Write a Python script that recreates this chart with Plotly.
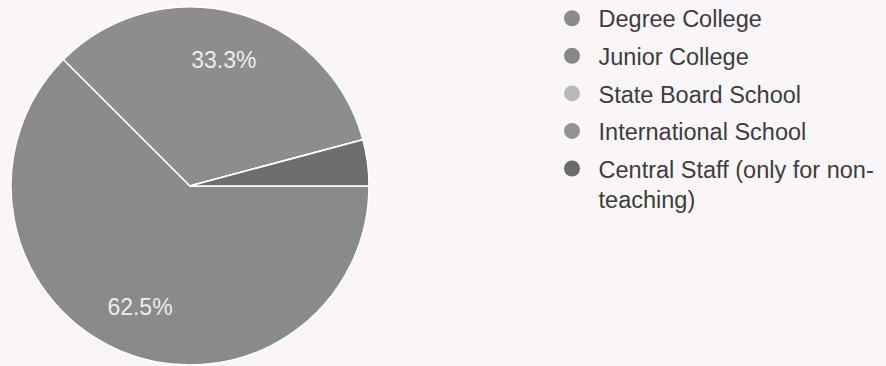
import plotly.graph_objects as go

categories = ["Degree College", "Junior College", "State Board School",
              "International School", "Central Staff (only for non-teaching)"]
legend_names = ["\u00a0Degree College", "\u00a0Junior College", "\u00a0State Board School",
                "\u00a0International School", "\u00a0Central Staff (only for non-<br>\u00a0teaching)"]
responses = [15, 8, 0, 0, 1]
slice_colors = ["#8a8a8a", "#8d8d8d", "#b8b8b8", "#939393", "#6e6e6e"]
legend_colors = ["#8a8a8a", "#878787", "#b9b9b9", "#939393", "#6b6b6b"]
label_templates = ["%{percent:.1%}", "%{percent:.1%}", "", "", ""]

W, H = 886, 366
cx, cy, r = 190, 186, 179
pie_domain = dict(x=[(cx - r) / W, (cx + r) / W], y=[(H - cy - r) / H, (H - cy + r) / H])

fig = go.Figure()
# visible slices
fig.add_trace(go.Pie(
    labels=categories,
    values=responses,
    sort=False,
    direction="clockwise",
    rotation=90,
    marker=dict(colors=slice_colors, line=dict(color="#ffffff", width=1.5)),
    textinfo="none",
    domain=pie_domain,
    showlegend=False,
    hoverinfo="label+percent",
))
# transparent ring carrying the percentage labels further out
fig.add_trace(go.Pie(
    labels=categories,
    values=responses,
    sort=False,
    direction="clockwise",
    rotation=90,
    hole=0.46,
    marker=dict(colors=["rgba(0,0,0,0)"] * len(categories), line=dict(width=0)),
    texttemplate=label_templates,
    textposition="inside",
    insidetextorientation="horizontal",
    textfont=dict(family="Liberation Sans, Arial, sans-serif", size=23, color="#ececec"),
    domain=pie_domain,
    showlegend=False,
    hoverinfo="skip",
))

for i, name in enumerate(legend_names):
    fig.add_trace(go.Scatter(
        x=[None], y=[None], mode="markers", name=name,
        legendgroup=f"g{i}",
        marker=dict(symbol="circle", size=18, color=legend_colors[i]),
        showlegend=True,
    ))

fig.update_layout(
    width=W, height=H,
    margin=dict(l=0, r=0, t=0, b=0, autoexpand=False),
    paper_bgcolor="#f9f5f8",
    plot_bgcolor="#f9f5f8",
    xaxis=dict(visible=False),
    yaxis=dict(visible=False),
    legend=dict(
        x=552 / W, y=1 + 3.5 / H, xanchor="left", yanchor="top",
        maxheight=H,
        font=dict(family="Liberation Sans, Arial, sans-serif", size=23.5, color="#3d3d3d"),
        bgcolor="rgba(0,0,0,0)",
        traceorder="grouped",
        tracegroupgap=4,
        valign="top",
        itemclick=False, itemdoubleclick=False,
    ),
)

fig.write_html("out.html", config={"displayModeBar": False},
               post_script="document.body.style.margin='0';document.body.style.background='#f9f5f8';")
